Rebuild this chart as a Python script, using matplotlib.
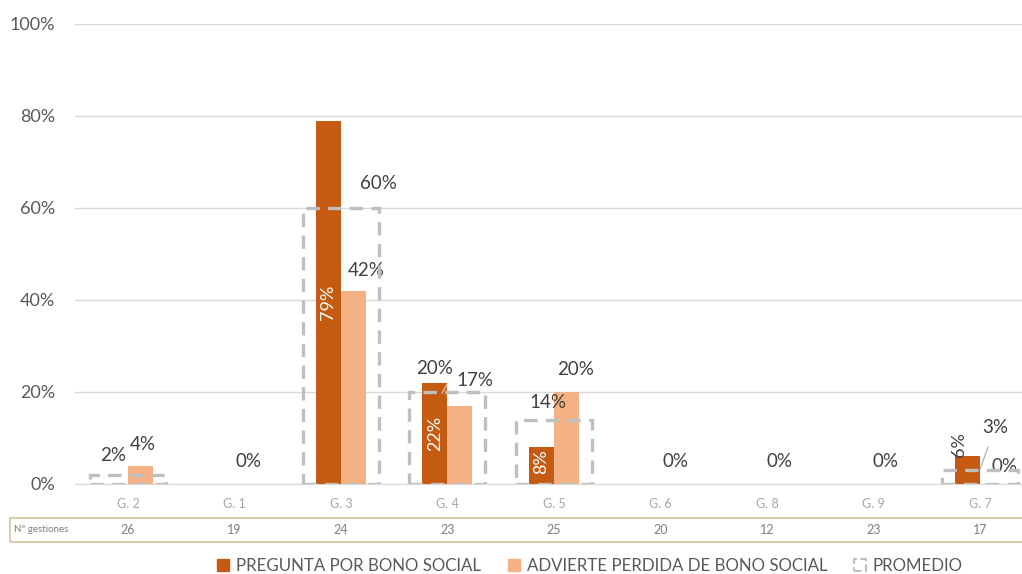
import matplotlib.pyplot as plt
from matplotlib.patches import Patch, Rectangle

plt.rcParams['font.family'] = ['Lato', 'DejaVu Sans']

# datos por gestor
grupos = ['G. 2', 'G. 1', 'G. 3', 'G. 4', 'G. 5', 'G. 6', 'G. 8', 'G. 9', 'G. 7']
pregunta = [0, 0, 79, 22, 8, 0, 0, 0, 6]
advierte = [4, 0, 42, 17, 20, 0, 0, 0, 0]
promedio = [2, 0, 60, 20, 14, 0, 0, 0, 3]
gestiones = [26, 19, 24, 23, 25, 20, 12, 23, 17]

c_oscuro = '#C55A11'
c_claro = '#F4B183'
c_prom = '#BFBFBF'
c_texto = '#404040'

fig = plt.figure(figsize=(10.22, 5.74), dpi=100)
ax = fig.add_axes([0.0731, 0.1568, 0.9379, 0.8014])

x = list(range(len(grupos)))
w = 0.235
ax.bar([i - w / 2 for i in x], pregunta, width=w, color=c_oscuro, zorder=3)
ax.bar([i + w / 2 for i in x], advierte, width=w, color=c_claro, zorder=3)

# cajas de promedio (solo las que tienen valor)
for i, p in enumerate(promedio):
    if p > 0:
        ax.bar(i, p, width=0.714, fill=False, edgecolor=c_prom,
               linestyle=(0, (4, 2.5)), linewidth=2.4, zorder=4)

ax.set_xlim(-0.5, len(grupos) - 0.5)
ax.set_ylim(0, 100)
ax.set_yticks([0, 20, 40, 60, 80, 100])
ax.set_yticklabels(['0%', '20%', '40%', '60%', '80%', '100%'])
ax.yaxis.grid(True, color='#D9D9D9', linewidth=1, zorder=0)
ax.set_xticks(x)
ax.set_xticklabels(grupos)
ax.tick_params(axis='y', length=0, pad=14, labelsize=13, labelcolor='#595959')
ax.tick_params(axis='x', length=0, pad=10, labelsize=9, labelcolor='#A6A6A6')
for s in ['top', 'right', 'left']:
    ax.spines[s].set_visible(False)
ax.spines['bottom'].set_color('#D9D9D9')

def pct(v):
    return f'{v}%'

fs = 13.5
# etiquetas dentro de las barras oscuras
for i in [2, 3, 4]:
    ax.text(i - w / 2, pregunta[i] / 2 if i != 4 else 4.8, pct(pregunta[i]),
            rotation=90, ha='center', va='center', color='white',
            fontsize=13, zorder=5)
ax.text(7.8, pregunta[8] + 2.5, pct(pregunta[8]), rotation=90, ha='center',
        va='center', color=c_texto, fontsize=13, zorder=5)

# etiquetas de promedio y de advierte
ax.text(-0.14, promedio[0] + 4.1, pct(promedio[0]), ha='center', va='center', color=c_texto, fontsize=fs)
ax.text(0.14, advierte[0] + 4.5, pct(advierte[0]), ha='center', va='center', color=c_texto, fontsize=fs)
ax.text(2.35, promedio[2] + 5.4, pct(promedio[2]), ha='center', va='center', color=c_texto, fontsize=fs)
ax.text(2.24, advierte[2] + 4.5, pct(advierte[2]), ha='center', va='center', color=c_texto, fontsize=fs)
ax.text(2.88, promedio[3] + 5.2, pct(promedio[3]), ha='center', va='center', color=c_texto, fontsize=fs)
ax.text(3.26, advierte[3] + 5.6, pct(advierte[3]), ha='center', va='center', color=c_texto, fontsize=fs)
ax.text(3.94, promedio[4] + 3.8, pct(promedio[4]), ha='center', va='center', color=c_texto, fontsize=fs)
ax.text(4.2, advierte[4] + 4.8, pct(advierte[4]), ha='center', va='center', color=c_texto, fontsize=fs)
for i, dx in [(1, 0.13), (5, 0.14), (6, 0.12), (7, 0.11)]:
    ax.text(i + dx, 4.8, pct(promedio[i]), ha='center', va='center', color=c_texto, fontsize=fs)
ax.text(8.23, advierte[8] + 3.7, pct(advierte[8]), ha='center', va='center', color=c_texto, fontsize=fs)
ax.annotate(pct(promedio[8]), xy=(8.0, promedio[8] + 0.2), xytext=(8.14, 12.2),
            ha='center', va='center', color=c_texto, fontsize=fs,
            arrowprops=dict(arrowstyle='-', color='#A6A6A6', lw=0.8,
                            shrinkA=6, shrinkB=0))
ax.plot([2.95, 3.0], [19.8, 21.8], color='#D9D9D9', lw=0.8, zorder=6)

# fila de numero de gestiones
tabla = Rectangle((10 / 1022, 32 / 574), 1.0, 24 / 574, transform=fig.transFigure,
                  fill=False, edgecolor='#D3C39B', linewidth=1.2)
fig.patches.append(tabla)
fig.text(14 / 1022, 44 / 574, 'Nº gestiones', fontsize=7, color='#7F7F7F', va='center')
for i, g in enumerate(gestiones):
    xf = (128 + 106.5 * i) / 1022
    fig.text(xf, 44 / 574, str(g), fontsize=9, color='#7F7F7F', ha='center', va='center')

handles = [Patch(facecolor=c_oscuro, edgecolor=c_oscuro),
           Patch(facecolor=c_claro, edgecolor=c_claro),
           Patch(facecolor='white', edgecolor=c_prom, linestyle='--', linewidth=1.5)]
fig.legend(handles, ['PREGUNTA POR BONO SOCIAL', 'ADVIERTE PERDIDA DE BONO SOCIAL', 'PROMEDIO'],
           loc='center', bbox_to_anchor=(590 / 1022, 8 / 574), ncol=3, frameon=False,
           fontsize=12.2, labelcolor='#595959', handlelength=0.7, handleheight=0.7,
           handletextpad=0.4, columnspacing=1.6)

fig.savefig('out.png', dpi=100)
